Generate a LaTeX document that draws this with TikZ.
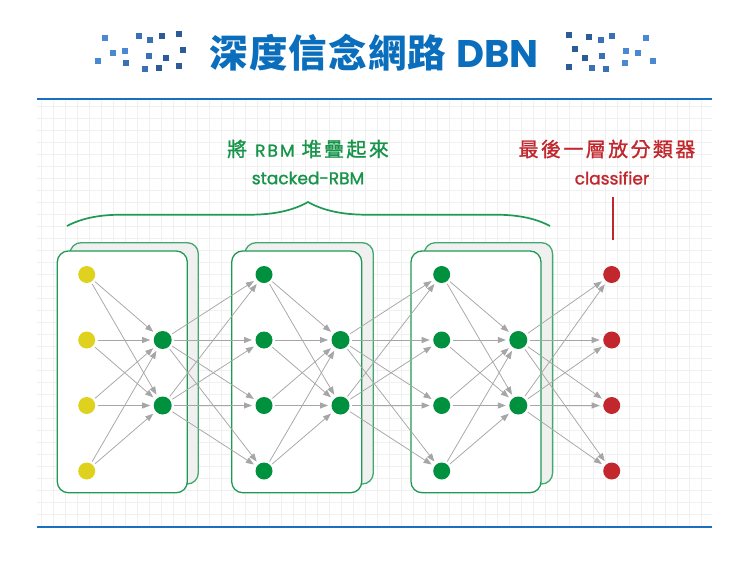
\documentclass[tikz,border=0pt]{standalone}
\usepackage{fontspec}
\usetikzlibrary{arrows.meta}
\newfontfamily\cjk{Noto Sans CJK TC}
\newfontfamily\cjkt{Noto Sans CJK TC}[LetterSpace=3]
\newfontfamily\cjkl{Noto Sans CJK TC}[LetterSpace=12,FakeBold=1.2]
\newfontfamily\cjkm{Noto Sans CJK TC}[FakeBold=1.2]
\newfontfamily\pop{Poppins}
\newfontfamily\popm{Poppins}[FakeBold=1.3]
\newfontfamily\popl{Poppins}[LetterSpace=12,FakeBold=1.3]
\definecolor{tblue}{HTML}{0A6EBD}
\definecolor{lblue}{HTML}{1B6FC0}
\definecolor{sqa}{HTML}{4A88D2}
\definecolor{sqb}{HTML}{3A70B4}
\definecolor{sqc}{HTML}{2C5C98}
\definecolor{dgreen}{HTML}{00913F}
\definecolor{bgreen}{HTML}{1F9A55}
\definecolor{lgreen}{HTML}{17944A}
\definecolor{nyellow}{HTML}{DFD21E}
\definecolor{nred}{HTML}{C1272D}
\definecolor{egray}{HTML}{A6A6A6}
\definecolor{gridc}{HTML}{F0F0F0}
\definecolor{backc}{HTML}{F0F0F0}
\begin{document}
\begin{tikzpicture}[x=1pt,y=-1pt,
  unit/.style={circle,minimum size=17pt,inner sep=0pt,outer sep=0pt},
  inunit/.style={unit,fill=nyellow},
  gunit/.style={unit,fill=dgreen},
  hunit/.style={unit,fill=dgreen,minimum size=18pt},
  runit/.style={unit,fill=nred},
  edge/.style={draw=egray,line width=0.75pt,-{Triangle[length=8pt,width=6pt]},shorten <=2.5pt,shorten >=3.5pt},
  frontbox/.style={draw=bgreen,line width=1.3pt,fill=white,rounded corners=11pt},
  backbox/.style={draw=bgreen!85,line width=1.3pt,fill=backc,rounded corners=11pt},
  gridline/.style={draw=gridc,line width=1.5pt},
  rule/.style={draw=lblue,line width=2.6pt}
]
\useasboundingbox (0,0) rectangle (750,563);
\fill[white] (0,0) rectangle (750,563);
% grid
\foreach \k in {0,...,55} \draw[gridline] ({41.7+12*\k},100.5) -- ({41.7+12*\k},525.5);
\foreach \k in {0,...,34} \draw[gridline] (37,{106.7+12*\k}) -- (712,{106.7+12*\k});
% rules
\draw[rule] (37,99) -- (712,99);
\draw[rule] (37,527) -- (712,527);
% title squares
\foreach \x/\y/\c in {105/38/sqa,139.3/36/sqb,150/40.3/sqb,162.3/36.3/sqc,178.7/34.3/sqc,
  113/53/sqa,125.3/51/sqa,182.7/50.3/sqc,149/56/sqb,166.3/58/sqc,
  98.3/61.3/sqa,126.3/62.7/sqb,145.3/69/sqb,159/68/sqc,178.7/66.3/sqc,
  569/34.7/sqc,589/36.7/sqc,601.3/40.3/sqb,612/36/sqb,646.3/38/sqa,
  575.3/49/sqc,585/58/sqc,602/56.3/sqb,626.3/51/sqa,638.3/53/sqa,
  569/67/sqc,592/68/sqb,606.3/69/sqb,625.3/62.7/sqa,653.3/61.3/sqa}
  \fill[\c] ({\x-3},{\y-3}) rectangle ({\x+3},{\y+3});
% title
\node[text=tblue,inner sep=0pt] (title) at (374,53)
  {\cjkt\bfseries\fontsize{38.5}{42}\selectfont 深度信念網路\hspace{10pt}{\pop\bfseries DBN}};
% labels
\node[text=lgreen,inner sep=0pt] (stkcn) at (308,149)
  {\fontsize{20}{24}\selectfont{\cjkm 將}\hspace{8pt}{\popl\fontsize{17}{20}\selectfont RBM}\hspace{7pt}{\cjkl 堆疊起來}};
\node[text=lgreen,inner sep=0pt] (stken) at (308,178) {\popm\fontsize{17}{20}\selectfont stacked-RBM};
\node[text=nred,inner sep=0pt] (clscn) at (607,149) {\cjkl\fontsize{20}{24}\selectfont 最後一層放分類器};
\node[text=nred,inner sep=0pt] (clsen) at (612,178) {\popm\fontsize{17}{20}\selectfont classifier};
\coordinate (redtop) at (613,197);
\coordinate (redbot) at (613,240);
\draw[nred,line width=1.8pt] (redtop) -- (redbot);
% brace
\draw[bgreen,line width=1.7pt] (67,226) .. controls (82,218) and (100,214.7) .. (122,214.7)
  -- (250,214.7) .. controls (275,214.7) and (294,210) .. (308,202)
  .. controls (322,210) and (341,214.7) .. (366,214.7)
  -- (495,214.7) .. controls (517,214.7) and (535,218) .. (550,226);
% boxes
\foreach \bx/\fx in {70/57.3, 245/231.7, 424.3/411}{
  \draw[backbox] (\bx,242.7) rectangle ({\bx+128.3},484);
  \draw[frontbox] (\fx,251) rectangle ({\fx+130},492.7);
}
% nodes
\foreach \i/\y in {1/274.5,2/340,3/405.5,4/471}{
  \node[inunit] (va\i) at (86.7,\y) {};
  \node[gunit] (vb\i) at (264,\y) {};
  \node[gunit] (vc\i) at (441.7,\y) {};
  \node[runit] (rr\i) at (611.7,\y) {};
}
\foreach \j/\y in {1/340,2/405.5}{
  \node[hunit] (ha\j) at (162.7,\y) {};
  \node[hunit] (hb\j) at (340.5,\y) {};
  \node[hunit] (hc\j) at (518.3,\y) {};
}
% edges
\foreach \i in {1,...,4}{
  \foreach \j in {1,2}{
    \draw[edge] (va\i) -- (ha\j);
    \draw[edge] (vb\i) -- (hb\j);
    \draw[edge] (vc\i) -- (hc\j);
    \draw[edge] (ha\j) -- (vb\i);
    \draw[edge] (hb\j) -- (vc\i);
    \draw[edge] (hc\j) -- (rr\i);
  }
}
\end{tikzpicture}
\end{document}
